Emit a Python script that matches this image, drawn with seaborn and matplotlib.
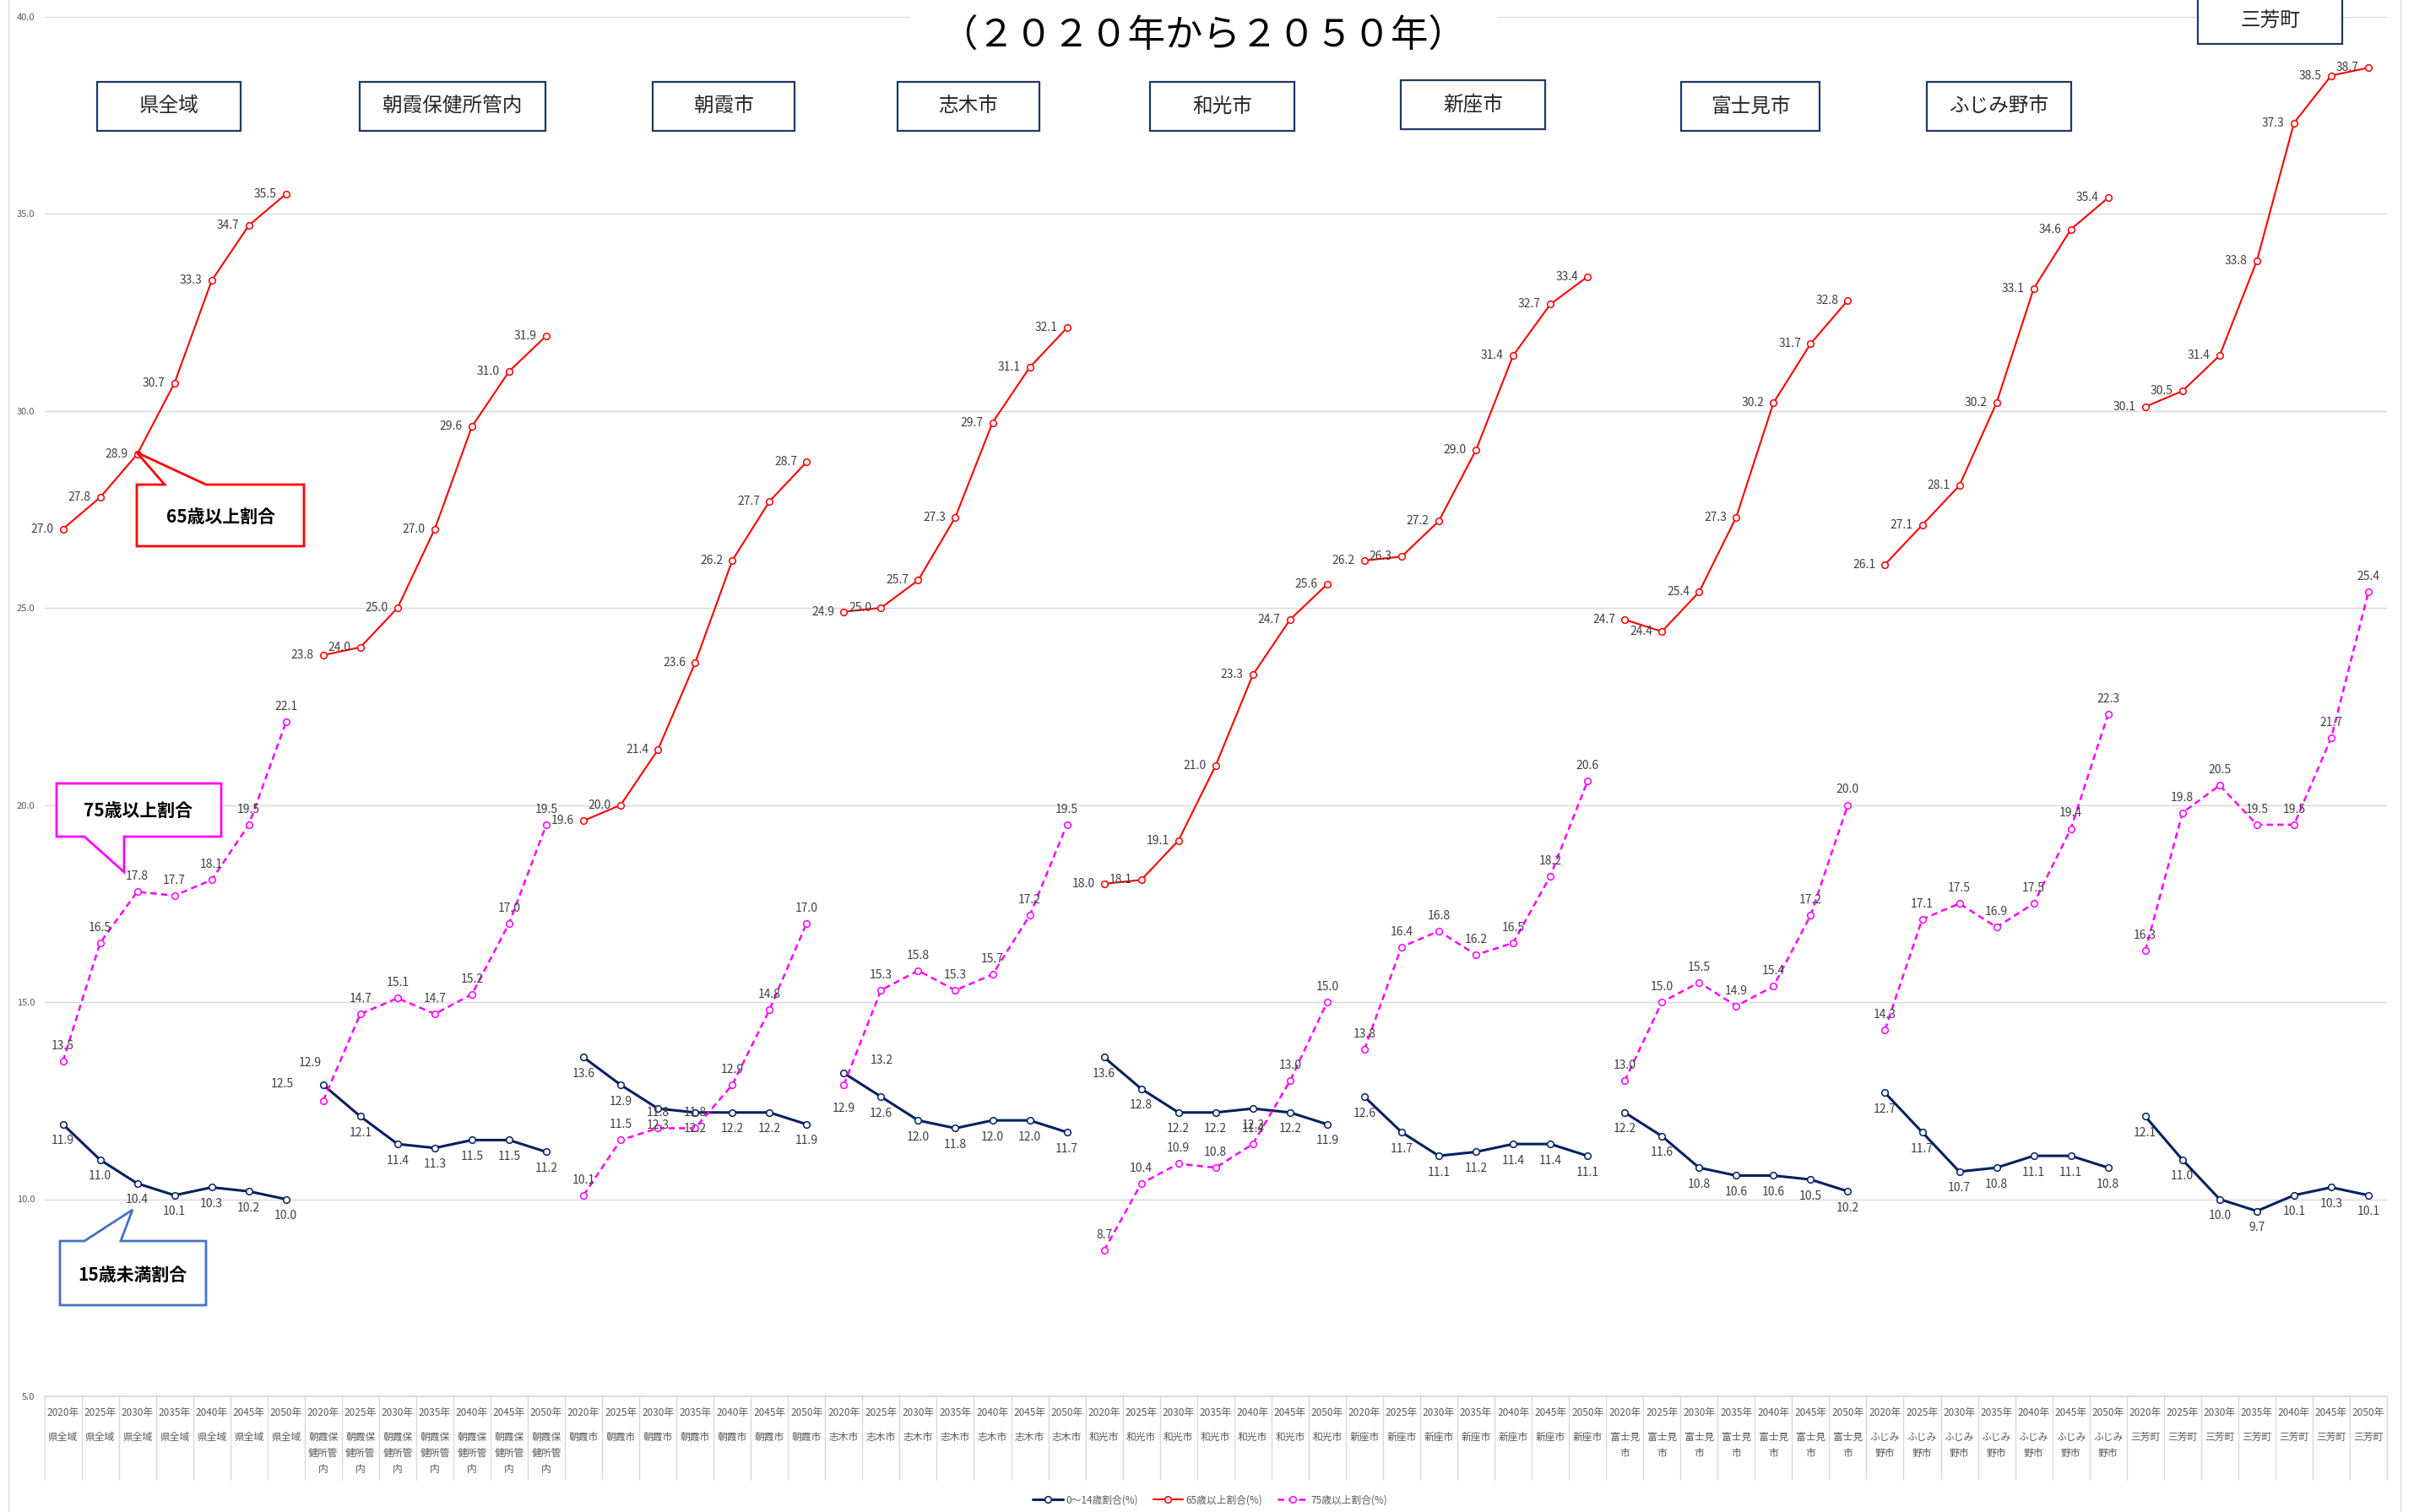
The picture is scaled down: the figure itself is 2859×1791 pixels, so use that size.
import numpy as np
import pandas as pd
import seaborn as sns
import matplotlib.pyplot as plt
from matplotlib.patches import Polygon, Rectangle
from matplotlib.lines import Line2D

# データ
regions = ['県全域', '朝霞保健所管内', '朝霞市', '志木市', '和光市',
           '新座市', '富士見市', 'ふじみ野市', '三芳町']
region_ticks = ['県全域', '朝霞保\n健所管\n内', '朝霞市', '志木市', '和光市',
                '新座市', '富士見\n市', 'ふじみ\n野市', '三芳町']
years = [2020, 2025, 2030, 2035, 2040, 2045, 2050]

under15 = [
    [11.9, 11.0, 10.4, 10.1, 10.3, 10.2, 10.0],
    [12.9, 12.1, 11.4, 11.3, 11.5, 11.5, 11.2],
    [13.6, 12.9, 12.3, 12.2, 12.2, 12.2, 11.9],
    [13.2, 12.6, 12.0, 11.8, 12.0, 12.0, 11.7],
    [13.6, 12.8, 12.2, 12.2, 12.3, 12.2, 11.9],
    [12.6, 11.7, 11.1, 11.2, 11.4, 11.4, 11.1],
    [12.2, 11.6, 10.8, 10.6, 10.6, 10.5, 10.2],
    [12.7, 11.7, 10.7, 10.8, 11.1, 11.1, 10.8],
    [12.1, 11.0, 10.0, 9.7, 10.1, 10.3, 10.1],
]
over65 = [
    [27.0, 27.8, 28.9, 30.7, 33.3, 34.7, 35.5],
    [23.8, 24.0, 25.0, 27.0, 29.6, 31.0, 31.9],
    [19.6, 20.0, 21.4, 23.6, 26.2, 27.7, 28.7],
    [24.9, 25.0, 25.7, 27.3, 29.7, 31.1, 32.1],
    [18.0, 18.1, 19.1, 21.0, 23.3, 24.7, 25.6],
    [26.2, 26.3, 27.2, 29.0, 31.4, 32.7, 33.4],
    [24.7, 24.4, 25.4, 27.3, 30.2, 31.7, 32.8],
    [26.1, 27.1, 28.1, 30.2, 33.1, 34.6, 35.4],
    [30.1, 30.5, 31.4, 33.8, 37.3, 38.5, 38.7],
]
over75 = [
    [13.5, 16.5, 17.8, 17.7, 18.1, 19.5, 22.1],
    [12.5, 14.7, 15.1, 14.7, 15.2, 17.0, 19.5],
    [10.1, 11.5, 11.8, 11.8, 12.9, 14.8, 17.0],
    [12.9, 15.3, 15.8, 15.3, 15.7, 17.2, 19.5],
    [8.7, 10.4, 10.9, 10.8, 11.4, 13.0, 15.0],
    [13.8, 16.4, 16.8, 16.2, 16.5, 18.2, 20.6],
    [13.0, 15.0, 15.5, 14.9, 15.4, 17.2, 20.0],
    [14.3, 17.1, 17.5, 16.9, 17.5, 19.4, 22.3],
    [16.3, 19.8, 20.5, 19.5, 19.5, 21.7, 25.4],
]
series_names = ['0～14歳割合(%)', '65歳以上割合(%)', '75歳以上割合(%)']

rows = []
for name, table in zip(series_names, [under15, over65, over75]):
    for r, region in enumerate(regions):
        for y, year in enumerate(years):
            rows.append({'series': name, 'region': region, 'year': year,
                         'pos': r * len(years) + y, 'value': table[r][y]})
df = pd.DataFrame(rows)

W, H = 2859, 1791
sns.set_theme(style='white')
plt.rcParams['font.family'] = ['Noto Sans CJK JP', 'DejaVu Sans']

fig = plt.figure(figsize=(W / 100, H / 100), dpi=100)
ax = fig.add_axes([52.5 / W, 1 - 1654 / H, (2827 - 52.5) / W, (1654 - 19.5) / H])

styles = {
    series_names[0]: dict(color='#002060', linewidth=2.2, linestyle='-'),
    series_names[1]: dict(color='#FF0000', linewidth=1.5, linestyle='-'),
    series_names[2]: dict(color='#FF00FF', linewidth=1.8, linestyle=(0, (3, 2))),
}
handles = []
for name in series_names:
    st = styles[name]
    sns.lineplot(data=df[df.series == name], x='pos', y='value', units='region',
                 estimator=None, sort=True, ax=ax, marker='o', markersize=5.5,
                 markerfacecolor='white', markeredgecolor=st['color'],
                 markeredgewidth=1.1, **st)
    handles.append(ax.lines[-1])

# データラベル
default_off = {series_names[0]: (0, -14), series_names[1]: (-8, 0), series_names[2]: (0, 13)}
default_ha = {series_names[0]: 'center', series_names[1]: 'right', series_names[2]: 'center'}
special = {
    (series_names[2], '朝霞保健所管内', 2020): (-35, 14),
    (series_names[0], '朝霞保健所管内', 2020): (-11, 19),
    (series_names[0], '志木市', 2020): (32, 11),
    (series_names[2], '志木市', 2020): (0, -20),
}
for _, row in df.iterrows():
    key = (row.series, row.region, row.year)
    off = special.get(key, default_off[row.series])
    ha = 'center' if key in special else default_ha[row.series]
    ax.annotate(f'{row.value:.1f}', (row.pos, row.value), xytext=off,
                textcoords='offset points', ha=ha, va='center',
                fontsize=10, color='#404040', zorder=5)

# 軸
n = len(regions) * len(years)
ax.set_xlim(-0.5, n - 0.5)
ax.set_ylim(5, 40)
yt = np.arange(5, 41, 5)
ax.set_yticks(yt, labels=[f'{t:.1f}' for t in yt])
ax.tick_params(axis='y', length=0, pad=8, labelsize=8, labelcolor='#595959')
ax.yaxis.grid(True, color='#D9D9D9', linewidth=1)
ax.xaxis.grid(False)
ax.set_xlabel('')
ax.set_ylabel('')
for s in ['left', 'right', 'top']:
    ax.spines[s].set_visible(False)
ax.spines['bottom'].set_color('#D9D9D9')

ax.set_xticks(np.arange(n), labels=[f'{y}年' for r in regions for y in years])
ax.set_xticks(np.arange(-0.5, n, 1), minor=True)
ax.tick_params(axis='x', which='major', bottom=True, length=0, pad=9, labelsize=8.5,
               labelcolor='#595959')
ax.tick_params(axis='x', which='minor', bottom=True, length=71, width=1, color='#D9D9D9',
               direction='out')

sec = ax.secondary_xaxis('bottom')
sec.set_xticks(np.arange(n), labels=[region_ticks[r] for r in range(len(regions)) for y in years])
sec.tick_params(length=0, pad=30, labelsize=8.5, labelcolor='#595959')
sec.spines['bottom'].set_visible(False)
for t in sec.get_xticklabels():
    t.set_linespacing(1.6)

ax.legend(handles, series_names, loc='center', bbox_to_anchor=(1433 / W, 1 - 1777 / H),
          bbox_transform=fig.transFigure, ncol=3, frameon=False, fontsize=8.5,
          labelcolor='#595959', handlelength=3, handletextpad=0.3, columnspacing=1.5)


def fx(x):
    return x / W


def fy(y):
    return 1 - y / H


# タイトル
fig.text(fx(1425), fy(42), '（２０２０年から２０５０年）', fontsize=32, ha='center', va='center',
         color='black', bbox=dict(facecolor='white', edgecolor='none', pad=26))

# 地域名ボックス
boxes = [(115, 285, 97, 155), (426, 646, 97, 155), (773, 941, 97, 155),
         (1063, 1231, 97, 155), (1362, 1533, 97, 155), (1659, 1830, 95, 153),
         (1991, 2155, 97, 155), (2282, 2453, 97, 155), (2603, 2774, -4, 52)]
for name, (x0, x1, y0, y1) in zip(regions, boxes):
    fig.add_artist(Rectangle((fx(x0), fy(y1)), fx(x1 - x0), (y1 - y0) / H,
                             transform=fig.transFigure, facecolor='white',
                             edgecolor='#1F3864', linewidth=1.6, zorder=6))
    fig.text(fx((x0 + x1) / 2), fy((y0 + y1) / 2), name, ha='center', va='center',
             fontsize=17, color='#262626', zorder=7)

# 吹き出し
callouts = [
    ('65歳以上割合', '#FF0000',
     [(162, 574), (195, 574), (162, 536), (244, 574), (360, 574), (360, 647), (162, 647)],
     (261, 612)),
    ('75歳以上割合', '#FF00FF',
     [(67, 928), (262, 928), (262, 991), (147, 991), (147, 1033), (100, 991), (67, 991)],
     (164, 960)),
    ('15歳未満割合', '#4472C4',
     [(71, 1470), (100, 1470), (157, 1433), (143, 1470), (244, 1470), (244, 1546), (71, 1546)],
     (157, 1510)),
]
for text, col, pts, (tx, ty) in callouts:
    fig.add_artist(Polygon([(fx(a), fy(b)) for a, b in pts], closed=True,
                           transform=fig.transFigure, facecolor='white',
                           edgecolor=col, linewidth=2, zorder=6))
    fig.text(fx(tx), fy(ty), text, ha='center', va='center', fontsize=15,
             fontweight='bold', color='black', zorder=7)

# 外枠
for xb in (10, 2843):
    fig.add_artist(Line2D([fx(xb), fx(xb)], [0, 1], transform=fig.transFigure,
                          color='#D9D9D9', linewidth=1))

fig.savefig('out.png', dpi=100)
